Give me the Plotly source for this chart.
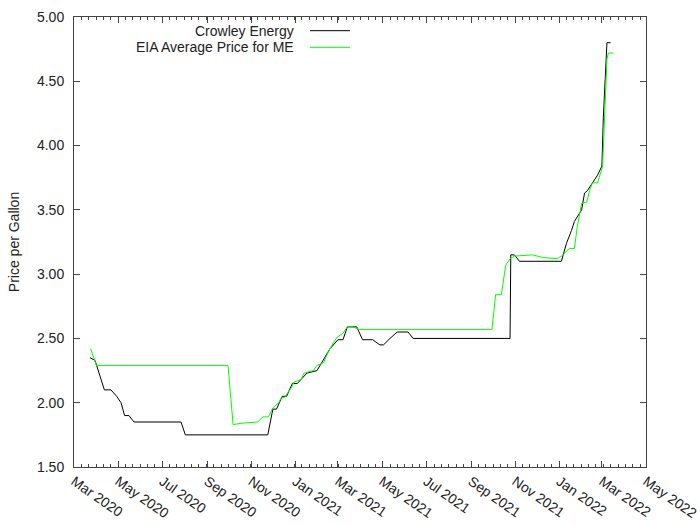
import plotly.graph_objects as go

# Crowley Energy price series
crowley_dates = [
    "2020-03-23", "2020-03-30", "2020-04-12", "2020-04-21", "2020-04-29", "2020-05-05",
    "2020-05-10", "2020-05-16", "2020-05-23", "2020-07-27", "2020-08-02", "2020-11-24",
    "2020-12-01", "2020-12-06", "2020-12-10", "2020-12-14", "2020-12-20", "2020-12-28",
    "2021-01-04", "2021-01-17", "2021-01-31", "2021-02-14", "2021-02-18", "2021-03-01",
    "2021-03-08", "2021-03-14", "2021-03-27", "2021-04-04", "2021-04-18", "2021-04-28",
    "2021-05-03", "2021-05-12", "2021-05-22", "2021-06-06", "2021-06-13", "2021-10-25",
    "2021-10-26", "2021-10-31", "2021-11-07", "2022-01-04", "2022-01-11", "2022-01-18",
    "2022-01-22", "2022-02-01", "2022-02-05", "2022-02-09", "2022-02-16", "2022-02-23",
    "2022-03-01", "2022-03-03", "2022-03-08", "2022-03-13",
]
crowley_prices = [
    2.35, 2.33, 2.10, 2.10, 2.05, 2.00,
    1.90, 1.90, 1.85, 1.85, 1.75, 1.75,
    1.95, 1.95, 2.00, 2.05, 2.05, 2.15,
    2.15, 2.23, 2.25, 2.38, 2.42, 2.49,
    2.49, 2.59, 2.59, 2.49, 2.49, 2.45,
    2.45, 2.50, 2.55, 2.55, 2.50, 2.50,
    3.15, 3.15, 3.10, 3.10, 3.24, 3.34,
    3.41, 3.50, 3.63, 3.65, 3.71, 3.77,
    3.84, 4.22, 4.80, 4.80,
]

# EIA average price for ME
eia_dates = [
    "2020-03-24", "2020-04-01", "2020-09-30", "2020-10-07", "2020-10-18", "2020-11-10",
    "2020-11-17", "2020-11-25", "2020-12-01", "2020-12-09", "2020-12-13", "2020-12-17",
    "2020-12-27", "2020-12-30", "2021-01-09", "2021-01-13", "2021-01-26", "2021-01-31",
    "2021-02-09", "2021-02-16", "2021-02-23", "2021-02-28", "2021-03-08", "2021-03-14",
    "2021-03-21", "2021-03-31", "2021-09-30", "2021-10-05", "2021-10-13", "2021-10-19",
    "2021-10-25", "2021-10-31", "2021-11-25", "2021-12-09", "2021-12-29", "2022-01-04",
    "2022-01-15", "2022-01-22", "2022-01-26", "2022-02-01", "2022-02-08", "2022-02-12",
    "2022-02-16", "2022-02-23", "2022-03-02", "2022-03-08", "2022-03-10", "2022-03-17",
]
eia_prices = [
    2.42, 2.29, 2.29, 1.83, 1.84, 1.85,
    1.89, 1.89, 1.96, 2.00, 2.04, 2.04,
    2.12, 2.16, 2.18, 2.23, 2.25, 2.29,
    2.31, 2.40, 2.47, 2.51, 2.54, 2.59,
    2.59, 2.57, 2.57, 2.84, 2.84, 3.07,
    3.12, 3.14, 3.15, 3.13, 3.12, 3.14,
    3.20, 3.20, 3.37, 3.55, 3.56, 3.65,
    3.71, 3.71, 3.84, 4.67, 4.72, 4.72,
]

series_names = ["Crowley Energy", "EIA Average Price for ME"]
series_colors = ["#000000", "#00ff00"]

x_range = ["2020-03-01", "2022-05-01"]
y_range = [1.5, 5.0]

FONT = "Liberation Sans, Arial, sans-serif"
FSIZE = 14
AXIS_COLOR = "#444444"

fig = go.Figure()
fig.add_trace(go.Scatter(x=crowley_dates, y=crowley_prices, mode="lines",
                         line=dict(color=series_colors[0], width=1),
                         name=series_names[0], showlegend=False))
fig.add_trace(go.Scatter(x=eia_dates, y=eia_prices, mode="lines",
                         line=dict(color=series_colors[1], width=1),
                         name=series_names[1], showlegend=False))

# gnuplot-style key: right-aligned text followed by a line sample
legend_y = [0.9696, 0.9327]
for name, color, ly in zip(series_names, series_colors, legend_y):
    fig.add_annotation(xref="paper", yref="paper", x=0.388, y=ly, text=name,
                       showarrow=False, xanchor="right", yanchor="middle",
                       font=dict(family=FONT, size=FSIZE, color="#222222"))
    fig.add_shape(type="line", xref="paper", yref="paper", x0=0.4126, x1=0.4825,
                  y0=ly, y1=ly, line=dict(color=color, width=1))

fig.update_layout(
    width=700, height=525,
    margin=dict(l=74, r=54, t=17, b=58, autoexpand=False),
    paper_bgcolor="white", plot_bgcolor="white",
    font=dict(family=FONT, size=FSIZE, color="#222222"),
)
fig.update_xaxes(
    type="date", range=x_range, dtick="M2", tick0="2020-03-01",
    tickformat="%b %Y", tickangle=35, automargin=False,
    ticks="inside", ticklen=6, tickcolor=AXIS_COLOR,
    minor=dict(ticks="inside", ticklen=3, dtick=86400000 * 61 / 6,
               tick0="2020-03-01", tickcolor=AXIS_COLOR),
    showline=True, linecolor=AXIS_COLOR, linewidth=1, mirror="ticks",
    showgrid=False, zeroline=False,
)
fig.update_yaxes(
    range=y_range, dtick=0.5, tickformat=".2f", automargin=False,
    ticks="inside", ticklen=6, tickcolor=AXIS_COLOR, ticklabelstandoff=6,
    showline=True, linecolor=AXIS_COLOR, linewidth=1, mirror="ticks",
    showgrid=False, zeroline=False,
    title=dict(text="Price per Gallon", standoff=14, font=dict(size=FSIZE)),
)

fig.write_html("out.html")
